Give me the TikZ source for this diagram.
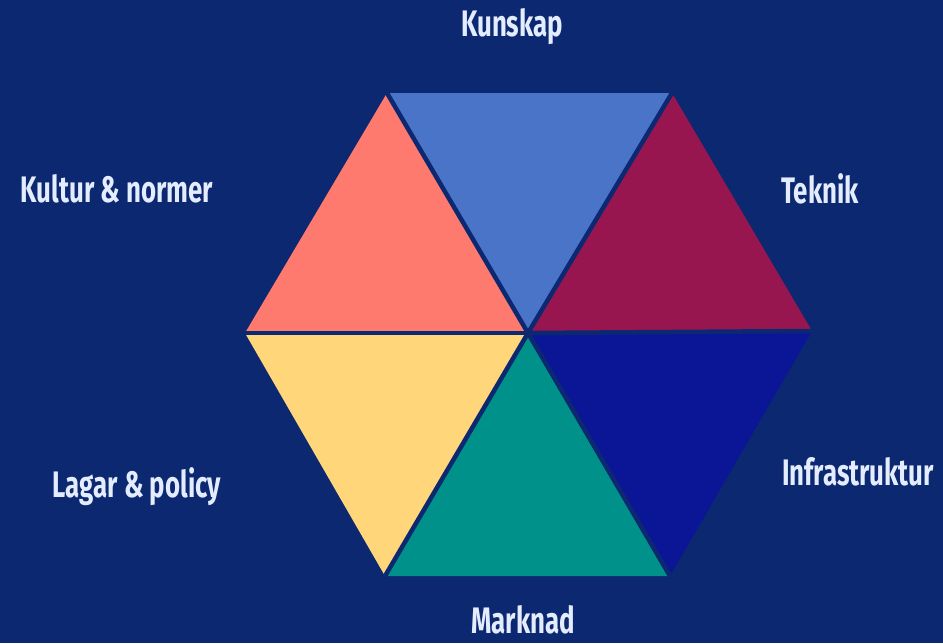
\documentclass[tikz,border=0pt]{standalone}
\usepackage{fontspec}
\setmainfont{Fira Sans}

\definecolor{bgNavy}{RGB}{12,40,112}
\definecolor{labelWhite}{RGB}{228,236,255}
\definecolor{kunskapBlue}{RGB}{74,116,200}
\definecolor{teknikRed}{RGB}{152,22,80}
\definecolor{infraBlue}{RGB}{10,22,150}
\definecolor{marknadTeal}{RGB}{0,145,138}
\definecolor{lagarYellow}{RGB}{255,214,122}
\definecolor{kulturSalmon}{RGB}{255,122,110}

\begin{document}
\begin{tikzpicture}[x=0.02cm,y=-0.02cm,
    areaLabel/.style={text=labelWhite,font=\bfseries\fontsize{21}{24}\selectfont,xscale=0.7,inner sep=0pt}]
    % Background
    \fill[bgNavy] (0,0) rectangle (943,643);

    % Define the corners of the hexagon
    \coordinate (mid) at (528,333);
    \coordinate (topLeft) at (387,93);
    \coordinate (topRight) at (672,93);
    \coordinate (right) at (812,331);
    \coordinate (bottomRight) at (670,576);
    \coordinate (bottomLeft) at (385,576);
    \coordinate (left) at (245,333);

    % Fill the six triangles
    \fill[kunskapBlue] (topLeft) -- (topRight) -- (mid) -- cycle;
    \fill[teknikRed] (topRight) -- (right) -- (mid) -- cycle;
    \fill[infraBlue] (right) -- (bottomRight) -- (mid) -- cycle;
    \fill[marknadTeal] (bottomRight) -- (bottomLeft) -- (mid) -- cycle;
    \fill[lagarYellow] (bottomLeft) -- (left) -- (mid) -- cycle;
    \fill[kulturSalmon] (left) -- (topLeft) -- (mid) -- cycle;

    % Draw the gaps between the triangles
    \foreach \corner in {topLeft,topRight,right,bottomRight,bottomLeft,left}
        \draw[bgNavy,line width=0.09cm] (mid) -- (\corner);

    % Draw the labels
    \node[areaLabel] (kunskap) at (512,27) {Kunskap};
    \node[areaLabel] (teknik) at (820,189) {Teknik};
    \node[areaLabel] (infra) at (858,472) {Infrastruktur};
    \node[areaLabel] (marknad) at (523,620) {Marknad};
    \node[areaLabel] (lagar) at (137,487) {Lagar \& policy};
    \node[areaLabel] (kultur) at (117,189) {Kultur \& normer};
\end{tikzpicture}
\end{document}
